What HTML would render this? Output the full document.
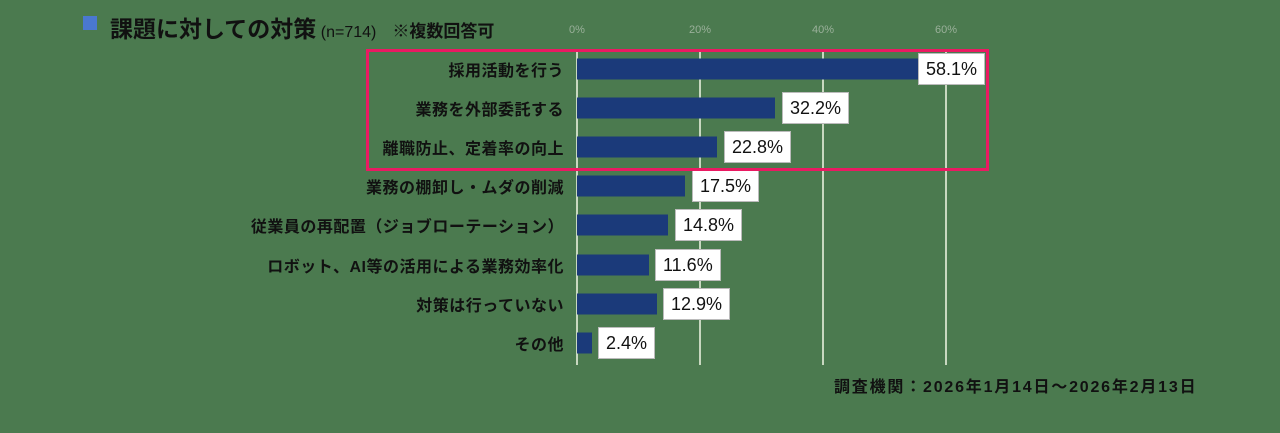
<!DOCTYPE html>
<html><head><meta charset="utf-8"><style>
body{margin:0;width:1280px;height:433px;background:#4b7a4f;position:relative;overflow:hidden;font-family:"Liberation Sans","Noto Sans CJK JP",sans-serif}
.a{position:absolute}
.lbl{position:absolute;right:716px;font-weight:bold;font-size:16px;letter-spacing:0.5px;color:#111;white-space:nowrap;transform:translateY(-50%)}
.bar{position:absolute;left:577px;height:21px;background:#1b3a7a;transform:translateY(-50%)}
.val{position:absolute;background:#fff;border:1px solid #bbb;font-size:18px;color:#111;height:30px;line-height:30px;padding:0 7px;transform:translateY(-50%)}
.g{position:absolute;top:52px;height:313px;width:2px;background:#c8d8c0}
.tk{position:absolute;top:24px;font-size:11px;color:#9ab09a;transform:translateX(-50%)}
</style></head><body>
<div class="a" style="left:83px;top:16px;width:14px;height:14px;background:#4a78d0"></div>
<div class="a" style="left:110px;top:10px;font-size:23px;font-weight:bold;color:#111;white-space:nowrap">課題に対しての対策<span style="font-size:16px;font-weight:normal"> (n=714)　</span><span style="font-size:17px;font-weight:bold">※複数回答可</span></div>
<div class="g" style="left:576px"></div><div class="g" style="left:699px"></div><div class="g" style="left:822px"></div><div class="g" style="left:945px"></div>
<div class="tk" style="left:577px">0%</div><div class="tk" style="left:700px">20%</div><div class="tk" style="left:823px">40%</div><div class="tk" style="left:946px">60%</div>

<div class="lbl" style="top:69px">採用活動を行う</div><div class="bar" style="top:69px;width:357px"></div><div class="val" style="top:69px;left:918px">58.1%</div>
<div class="lbl" style="top:108px">業務を外部委託する</div><div class="bar" style="top:108px;width:198px"></div><div class="val" style="top:108px;left:782px">32.2%</div>
<div class="lbl" style="top:147px">離職防止、定着率の向上</div><div class="bar" style="top:147px;width:140px"></div><div class="val" style="top:147px;left:724px">22.8%</div>
<div class="lbl" style="top:186px">業務の棚卸し・ムダの削減</div><div class="bar" style="top:186px;width:108px"></div><div class="val" style="top:186px;left:692px">17.5%</div>
<div class="lbl" style="top:225px">従業員の再配置（ジョブローテーション）</div><div class="bar" style="top:225px;width:91px"></div><div class="val" style="top:225px;left:675px">14.8%</div>
<div class="lbl" style="top:265px">ロボット、AI等の活用による業務効率化</div><div class="bar" style="top:265px;width:72px"></div><div class="val" style="top:265px;left:655px">11.6%</div>
<div class="lbl" style="top:304px">対策は行っていない</div><div class="bar" style="top:304px;width:80px"></div><div class="val" style="top:304px;left:663px">12.9%</div>
<div class="lbl" style="top:343px">その他</div><div class="bar" style="top:343px;width:15px"></div><div class="val" style="top:343px;left:598px">2.4%</div>

<div class="a" style="left:366px;top:49px;width:617px;height:116px;border:3px solid #ea1a62"></div>
<div class="a" style="left:834px;top:373px;font-size:16px;letter-spacing:1.8px;font-weight:bold;color:#111;white-space:nowrap">調査機関：2026年1月14日～2026年2月13日</div>
</body></html>
